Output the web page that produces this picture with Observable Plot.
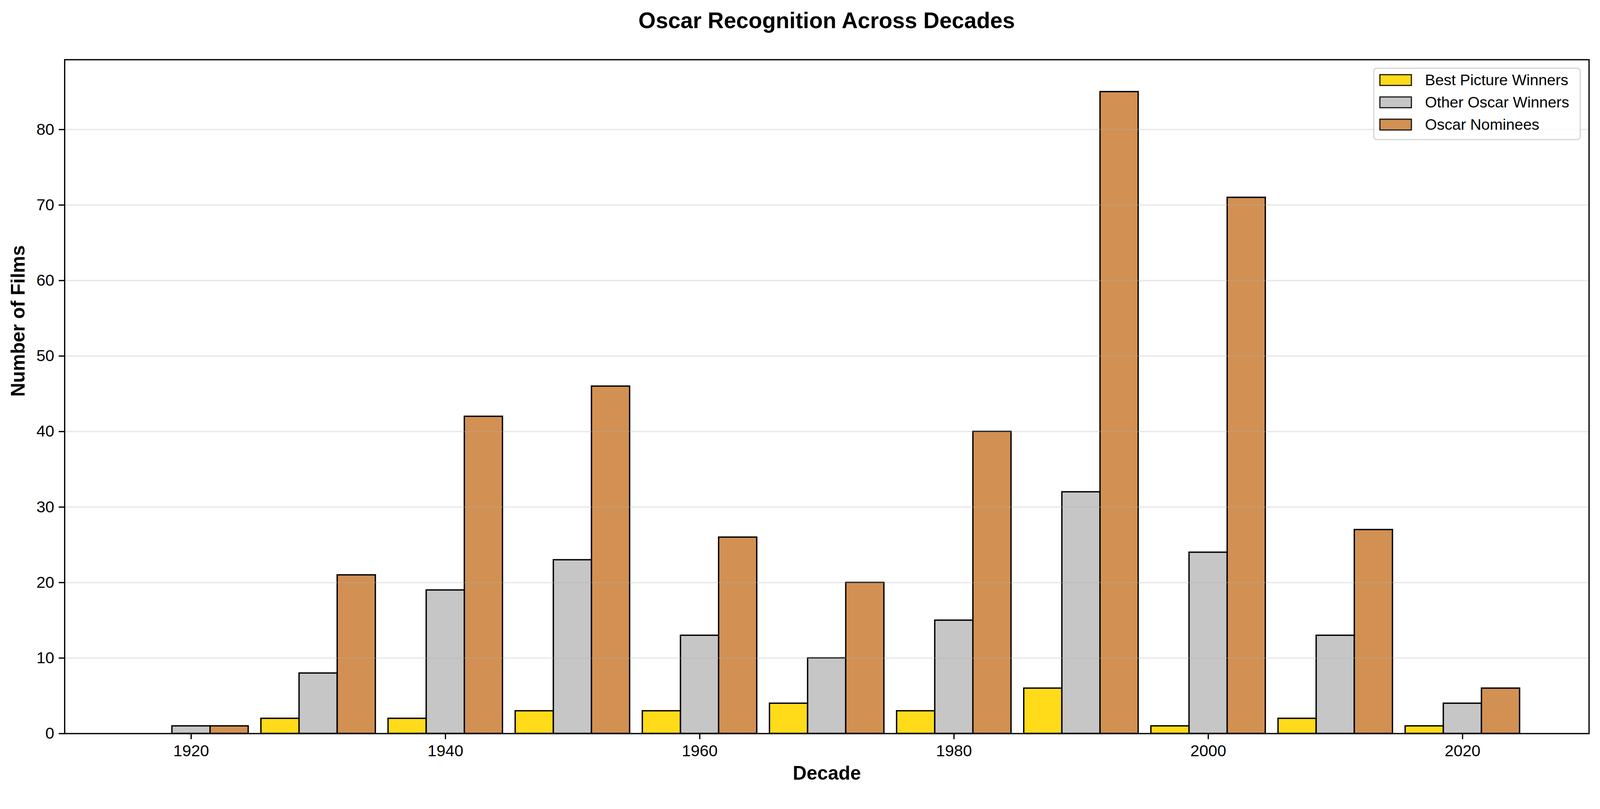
<!DOCTYPE html>
<html>
<head>
<meta charset="utf-8">
<script src="https://cdn.jsdelivr.net/npm/d3@7"></script>
<script src="https://cdn.jsdelivr.net/npm/@observablehq/plot@0.6"></script>
<style>
  html, body { margin: 0; padding: 0; background: #fff; overflow: hidden; }
  #page { position: relative; width: 4169px; height: 2070px; font-family: "Liberation Sans", Arial, sans-serif; transform-origin: 0 0; }
  #title { height: 130px; position: relative; }
  #title span { position: absolute; left: 2154px; top: 72px; transform: translate(-50%, -78%); font-size: 58px; font-weight: bold; white-space: nowrap; }
  #chart svg { display: block; }
  #legend { position: absolute; left: 3578px; top: 176px; width: 535px; height: 183px; border: 3px solid #d4d4d4; border-radius: 9px; background: rgba(255,255,255,0.8); box-sizing: content-box; }
  .row { position: absolute; left: 13px; height: 31px; display: flex; align-items: center; }
  .sw { width: 79px; height: 25px; border: 3.5px solid #1a1a1a; }
  .lab { margin-left: 34px; font-size: 40px; white-space: nowrap; }
</style>
</head>
<body>
<div id="page">
  <div id="title"><span>Oscar Recognition Across Decades</span></div>
  <div id="chart"></div>
  <div id="legend"></div>
</div>
<script>
const decades = [1920, 1930, 1940, 1950, 1960, 1970, 1980, 1990, 2000, 2010, 2020];
const bestPicture = [0, 2, 2, 3, 3, 4, 3, 6, 1, 2, 1];
const otherWinners = [1, 8, 19, 23, 13, 10, 15, 32, 24, 13, 4];
const nominees = [1, 21, 42, 46, 26, 20, 40, 85, 71, 27, 6];
const seriesNames = ["Best Picture Winners", "Other Oscar Winners", "Oscar Nominees"];
const seriesColors = ["#FFD700", "#C0C0C0", "#CD853F"];
const yTicks = [0, 10, 20, 30, 40, 50, 60, 70, 80];
const xTicks = [1920, 1940, 1960, 1980, 2000, 2020];

const seriesValues = [bestPicture, otherWinners, nominees];
const barWidth = 3;
const rows = [];
seriesValues.forEach((vals, s) => {
  vals.forEach((v, i) => {
    const c = decades[i] + (s - 1) * barWidth;
    rows.push({series: seriesNames[s], x1: c - barWidth / 2, x2: c + barWidth / 2, y: v});
  });
});

const chart = Plot.plot({
  width: 4169,
  height: 1940,
  marginLeft: 168,
  marginRight: 29,
  marginTop: 25,
  marginBottom: 160,
  style: {fontFamily: "Liberation Sans, Arial, sans-serif", background: "#fff", maxWidth: "none"},
  x: {domain: [1910.05, 2029.95]},
  y: {domain: [0, 89.25]},
  color: {domain: seriesNames, range: seriesColors},
  marks: [
    Plot.rectY(rows, {x1: "x1", x2: "x2", y1: 0, y2: "y", fill: "series", fillOpacity: 0.9, stroke: "#000", strokeWidth: 3.5}),
    Plot.gridY(yTicks.filter(d => d > 0), {stroke: "#b0b0b0", strokeOpacity: 0.3, strokeWidth: 3.3}),
    Plot.frame({stroke: "#000", strokeWidth: 3.3}),
    Plot.axisX(xTicks, {tickSize: 15, tickPadding: 14, fontSize: 42, strokeWidth: 3.3, label: null, tickFormat: d => String(d)}),
    Plot.axisY(yTicks, {tickSize: 15, tickPadding: 12, fontSize: 42, strokeWidth: 3.3, label: null}),
    Plot.text(["Decade"], {frameAnchor: "bottom", dy: 120, text: d => d, fontSize: 50, fontWeight: "bold", fill: "#000"}),
    Plot.text(["Number of Films"], {frameAnchor: "left", dx: -120, rotate: -90, text: d => d, fontSize: 50, fontWeight: "bold", fill: "#000"})
  ]
});
document.getElementById("chart").appendChild(chart);

const legend = document.getElementById("legend");
seriesNames.forEach((name, i) => {
  const row = document.createElement("div");
  row.className = "row";
  row.style.top = (14 + i * 58) + "px";
  const sw = document.createElement("div");
  sw.className = "sw";
  sw.style.backgroundColor = d3.interpolateRgb("#fff", seriesColors[i])(0.9);
  const lab = document.createElement("span");
  lab.className = "lab";
  lab.textContent = name;
  row.appendChild(sw);
  row.appendChild(lab);
  legend.appendChild(row);
});

function fit() {
  const w = document.documentElement.clientWidth || window.innerWidth;
  const h = document.documentElement.clientHeight || window.innerHeight;
  const s = Math.min(w / 4169, h / 2070);
  document.getElementById("page").style.transform = s < 0.999 || s > 1.001 ? `scale(${s})` : "none";
}
fit();
window.addEventListener("resize", fit);
</script>
</body>
</html>
